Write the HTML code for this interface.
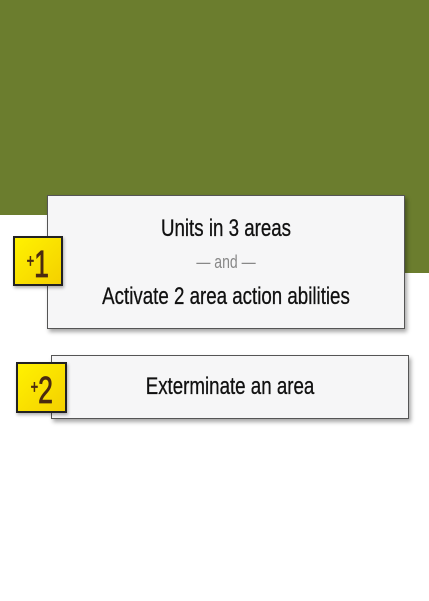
<!DOCTYPE html>
<html><head><style>
body{margin:0;width:429px;height:601px;background:#fff;position:relative;overflow:hidden;font-family:"Liberation Sans",sans-serif;}
.g{position:absolute;background:#6b7d2e}
.box{position:absolute;background:#f6f6f7;border:1.5px solid #555;box-shadow:2px 3px 4px rgba(0,0,0,.35);box-sizing:border-box;text-align:center;color:#111;font-size:24px}
.t{position:absolute;width:100%;transform:scaleX(0.78);transform-origin:center;-webkit-text-stroke:0.3px #111}
.badge{position:absolute;background:linear-gradient(135deg,#fff200,#f4d000);border:2px solid #222;box-sizing:border-box;color:#4a2a10;text-align:center;font-size:38px;line-height:46px;box-shadow:1px 2px 3px rgba(0,0,0,.3)}
.badge span{display:inline-block;transform:scaleX(0.7);-webkit-text-stroke:0.8px #4a2a10}
.badge small{font-size:18px;vertical-align:10px}
</style></head><body>
<div class="g" style="left:0;top:0;width:429px;height:215px"></div>
<div class="g" style="left:404px;top:0;width:25px;height:273px"></div>
<div class="box" style="left:47px;top:195px;width:358px;height:134px">
<div class="t" style="top:19px">Units in 3 areas</div>
<div class="t" style="top:56px;font-size:18px;color:#888;-webkit-text-stroke:0">— and —</div>
<div class="t" style="top:87px">Activate 2 area action abilities</div>
</div>
<div class="badge" style="left:13px;top:236px;width:50px;height:50px"><span><small>+</small>1</span></div>
<div class="box" style="left:51px;top:355px;width:358px;height:64px"><div class="t" style="top:17px">Exterminate an area</div></div>
<div class="badge" style="left:16px;top:362px;width:51px;height:51px"><span><small>+</small>2</span></div>
</body></html>
